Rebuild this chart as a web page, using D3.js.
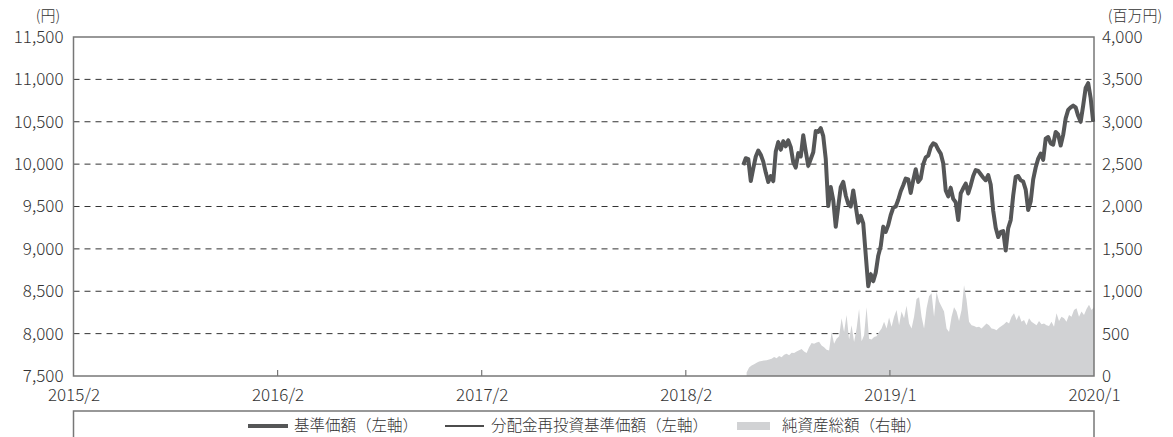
<!DOCTYPE html>
<html>
<head>
<meta charset="utf-8">
<script src="https://cdn.jsdelivr.net/npm/d3@7"></script>
<style>
  body { margin: 0; background: #fff; }
  svg { display: block; font-family: "Noto Sans CJK JP", "Noto Sans", sans-serif; font-weight: 300; }
  .tick text { fill: #333; }
</style>
</head>
<body>
<svg width="1173" height="437"></svg>
<script>
// x axis: trading-day index, labels at equal intervals
const tickIndex = [0, 245, 490, 735, 980, 1225];
const tickLabels = ["2015/2", "2016/2", "2017/2", "2018/2", "2019/1", "2020/1"];

const leftTicks = [7500, 8000, 8500, 9000, 9500, 10000, 10500, 11000, 11500];
const rightTicks = [0, 500, 1000, 1500, 2000, 2500, 3000, 3500, 4000];

// 基準価額 (円), every 3 trading days from day 804
const navStart = 804, navStep = 3;
const nav = [
  9990, 10070, 10060, 9800, 9950, 10090, 10160, 10110, 10030, 9900,
  9790, 9860, 9800, 10150, 10260, 10170, 10270, 10210, 10280, 10200,
  10020, 9960, 10130, 10090, 10340, 10150, 9980, 10060, 10140, 10390,
  10380, 10425, 10330, 10060, 9505, 9730, 9575, 9260, 9500, 9730,
  9790, 9630, 9530, 9500, 9690, 9500, 9310, 9390, 9300, 8930,
  8560, 8700, 8620, 8720, 8920, 9030, 9260, 9200, 9280, 9400,
  9485, 9500, 9580, 9680, 9750, 9830, 9820, 9660, 9810, 9940,
  9790, 9830, 10000, 10080, 10100, 10200, 10245, 10230, 10170, 10125,
  10010, 9690, 9620, 9720, 9590, 9550, 9340, 9655, 9715, 9770,
  9655, 9750, 9860, 9930, 9920, 9880, 9840, 9810, 9870, 9760,
  9450, 9250, 9140, 9200, 9210, 8980, 9245, 9340, 9630, 9850,
  9860, 9810, 9795, 9700, 9460, 9560, 9820, 9960, 10065, 10125,
  10050, 10300, 10320, 10245, 10230, 10380, 10350, 10220, 10345, 10540,
  10640, 10670, 10690, 10670, 10570, 10500, 10690, 10900, 10955, 10780,
  10500
];
// 分配金再投資基準価額 (円): no distributions, same as 基準価額
const reinvested = nav.slice();

// 純資産総額 (百万円), every 3 trading days from day 808
const assetStart = 808, assetStep = 3;
const assets = [
  40, 100, 125, 140, 155, 170, 178, 182, 185, 195,
  205, 225, 210, 235, 220, 250, 262, 245, 275, 270,
  290, 305, 320, 290, 270, 340, 390, 380, 395, 405,
  360, 340, 310, 300, 520, 380, 440, 470, 680, 520,
  720, 430, 600, 400, 560, 790, 410, 480, 810, 440,
  430, 460, 470, 520, 560, 640, 560, 690, 580, 700,
  780, 600, 760, 680, 830, 620, 560, 700, 910, 930,
  700, 560, 800, 940, 975, 700, 990, 880, 820, 760,
  560, 520, 700, 810, 760, 650, 780, 1070, 900, 640,
  600, 590, 575, 580, 560, 590, 620, 600, 560, 555,
  540, 570, 590, 610, 640, 620, 700, 740, 660, 720,
  640, 660, 600, 680, 640, 620, 600, 650, 610, 620,
  600, 590, 640, 580, 740, 650, 700, 680, 640, 720,
  700, 780, 800, 700, 760, 720, 790, 840, 780, 810
];

const legendNames = ["基準価額（左軸）", "分配金再投資基準価額（左軸）", "純資産総額（右軸）"];

const margin = { top: 37, left: 73.5 };
const h = 339;

const svg = d3.select("svg");
const g = svg.append("g")
  .attr("transform", "translate(" + margin.left + "," + margin.top + ")");

const x = d3.scaleLinear().domain([0, 1225]).range([0, 1020.5]);
const yL = d3.scaleLinear().domain([7500, 11500]).range([h, 0]);
const yR = d3.scaleLinear().domain([0, 4000]).range([h, 0]);

// grid
g.append("g")
  .selectAll("line")
  .data(leftTicks.slice(1, -1))
  .enter()
  .append("line")
  .attr("x1", 0)
  .attr("x2", x(1225))
  .attr("y1", d => yL(d))
  .attr("y2", d => yL(d))
  .attr("stroke", "#333")
  .attr("stroke-width", 1)
  .attr("stroke-dasharray", "6,5");

// net assets area
const area = d3.area()
  .x((d, i) => x(assetStart + i * assetStep))
  .y0(h)
  .y1(d => yR(d));

g.append("path")
  .datum(assets)
  .attr("fill", "#d1d2d4")
  .attr("d", area);

// frame
g.append("rect")
  .attr("x", 0)
  .attr("y", 0)
  .attr("width", x(1225))
  .attr("height", h)
  .attr("fill", "none")
  .attr("stroke", "#777")
  .attr("stroke-width", 1.5);

// inner ticks on bottom
g.append("g")
  .selectAll("line")
  .data(tickIndex.slice(1, -1))
  .enter()
  .append("line")
  .attr("x1", d => x(d))
  .attr("x2", d => x(d))
  .attr("y1", h)
  .attr("y2", h - 6)
  .attr("stroke", "#777")
  .attr("stroke-width", 1.2);

// lines
const line = d3.line()
  .x((d, i) => x(navStart + i * navStep))
  .y(d => yL(d));

g.append("path")
  .datum(reinvested)
  .attr("fill", "none")
  .attr("stroke", "#111")
  .attr("stroke-width", 1.5)
  .attr("d", line);

g.append("path")
  .datum(nav)
  .attr("fill", "none")
  .attr("stroke", "#555657")
  .attr("stroke-width", 4)
  .attr("stroke-linejoin", "round")
  .attr("d", line);

// axes
const fmt = d3.format(",");
const leftAxis = g.append("g")
  .call(d3.axisLeft(yL).tickValues(leftTicks).tickFormat(fmt).tickSize(0).tickPadding(10));
const rightAxis = g.append("g")
  .attr("transform", "translate(" + x(1225) + ",0)")
  .call(d3.axisRight(yR).tickValues(rightTicks).tickFormat(fmt).tickSize(0).tickPadding(8));
const bottomAxis = g.append("g")
  .attr("transform", "translate(0," + h + ")")
  .call(d3.axisBottom(x).tickValues(tickIndex).tickFormat((d, i) => tickLabels[i]).tickSize(0).tickPadding(13));

[leftAxis, rightAxis, bottomAxis].forEach(function (a) {
  a.select(".domain").remove();
  a.selectAll("text")
    .style("font-size", "17px")
    .attr("font-family", "'Noto Sans CJK JP', 'Noto Sans', sans-serif")
    .attr("font-weight", 300)
    .style("fill", "#333");
});

// unit labels
svg.append("text")
  .attr("x", 48)
  .attr("y", 21)
  .attr("text-anchor", "middle")
  .style("font-size", "15px")
  .style("fill", "#333")
  .text("(円)");

svg.append("text")
  .attr("x", 1135)
  .attr("y", 21)
  .attr("text-anchor", "middle")
  .style("font-size", "15px")
  .style("fill", "#333")
  .text("(百万円)");

// legend
svg.append("rect")
  .attr("x", 73.5)
  .attr("y", 411)
  .attr("width", 1020.5)
  .attr("height", 40)
  .attr("fill", "none")
  .attr("stroke", "#777")
  .attr("stroke-width", 1.5);

const legendX = [248, 445, 737];
const legend = svg.append("g").attr("transform", "translate(0,426)");

const items = legend.selectAll(".legend-item")
  .data(legendNames)
  .enter()
  .append("g")
  .attr("class", "legend-item")
  .attr("transform", (d, i) => "translate(" + legendX[i] + ",0)");

items.each(function (d, i) {
  const it = d3.select(this);
  if (i === 0) {
    it.append("line").attr("x1", 0).attr("x2", 40).attr("stroke", "#555657").attr("stroke-width", 4);
  } else if (i === 1) {
    it.append("line").attr("x1", 0).attr("x2", 39).attr("stroke", "#111").attr("stroke-width", 1.5);
  } else {
    it.append("rect").attr("x", 0).attr("y", -4).attr("width", 33).attr("height", 8).attr("fill", "#d1d2d4");
  }
});

items.append("text")
  .attr("x", (d, i) => (i === 2 ? 45 : 46))
  .attr("dy", "0.35em")
  .style("font-size", "15.5px")
  .style("fill", "#333")
  .text(d => d);
</script>
</body>
</html>
